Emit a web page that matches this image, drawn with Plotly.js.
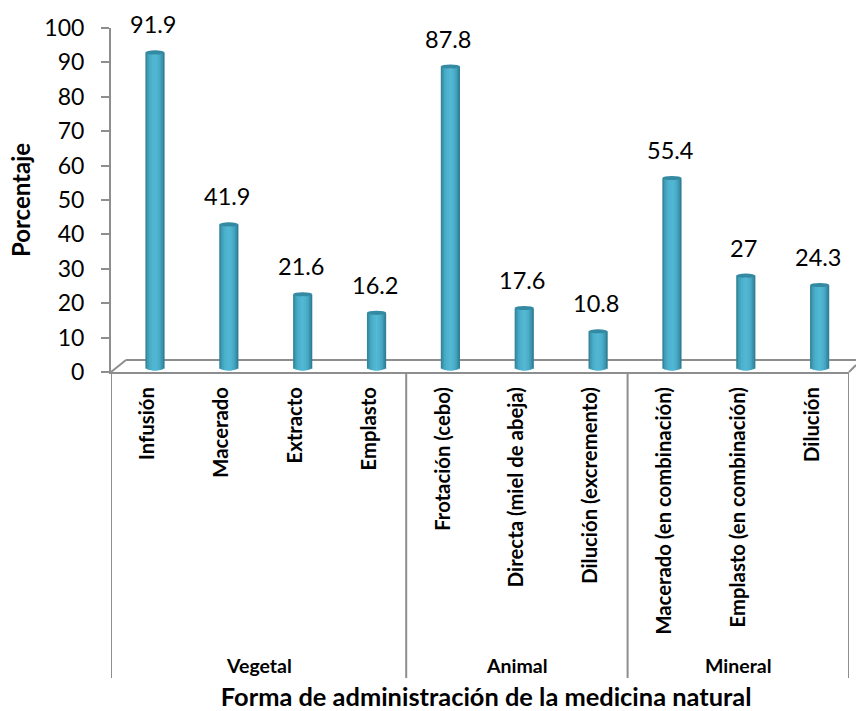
<!DOCTYPE html>
<html><head><meta charset="utf-8">
<script src="https://cdn.plot.ly/plotly-3.0.1.min.js"></script>
<style>html,body{margin:0;padding:0;background:#fff}</style></head>
<body><div id="chart" style="width:856px;height:711px"></div>
<script>
const categories = ["Infusión","Macerado","Extracto","Emplasto","Frotación (cebo)","Directa (miel de abeja)","Dilución (excremento)","Macerado (en combinación)","Emplasto (en combinación)","Dilución"];
const values = [91.9,41.9,21.6,16.2,87.8,17.6,10.8,55.4,27,24.3];
const valueLabels = ["91.9","41.9","21.6","16.2","87.8","17.6","10.8","55.4","27","24.3"];
const groups = ["Vegetal","Animal","Mineral"];
const groupSpans = [[0,3],[4,6],[7,9]];
const yTicks = [0,10,20,30,40,50,60,70,80,90,100];

// cylinder shading, left to right
const stripColors = ["#35869c","#3f9bb4","#46a8c3","#4bb0cb","#4eb4cf","#50b6d2","#50b6d2","#4eb3cf","#4aadc9","#43a3be","#3a92ab","#307f95"];
const stripDip = [0.1,0.35,0.55,0.7,0.8,0.85,0.85,0.8,0.7,0.55,0.35,0.1];
const capColor = "#338aa2";
const lineColor = "#8e8e8e";
const font = "Lato, Carlito, sans-serif";

const ids = categories.map((_, i) => i);
const barW = 0.26, n = stripColors.length, sw = barW / n;
const traces = [{
  type:"scatter", mode:"markers", x:ids, y:values, xaxis:"x", yaxis:"y",
  marker:{opacity:0}, hoverinfo:"skip", showlegend:false
}];
// drawn from the outer strips towards the centre, each one running under its inner neighbour
const order = stripColors.map((_, k) => k).sort((a, b) => Math.abs(b-(n-1)/2) - Math.abs(a-(n-1)/2));
order.forEach(k => {
  const left = k < n/2;
  const w = (k === n/2 || k === n/2-1) ? sw : 2*sw;
  traces.push({
    type:"bar", x:ids, y:values, base:ids.map(() => -stripDip[k]*0.7), xaxis:"x2", yaxis:"y2",
    width:w, offset:-barW/2 + (left ? k*sw : (k+1)*sw - w), marker:{color:stripColors[k], line:{width:0}},
    name:"Porcentaje", showlegend:false, hovertemplate:"%{y}<extra></extra>"
  });
});

const shapes = [];
const ln = {color:lineColor, width:2};
// floor outline
shapes.push({type:"line", xref:"paper", yref:"paper", x0:0, x1:15/738, y0:0, y1:12/344, line:ln, layer:"below"});
shapes.push({type:"line", xref:"paper", yref:"paper", x0:15/738, x1:745/738, y0:12/344, y1:12/344, line:ln, layer:"below"});
shapes.push({type:"line", xref:"paper", yref:"paper", x0:1, x1:745/738, y0:0, y1:7/344, line:ln, layer:"below"});
// group dividers below the axis
const divY = -306/344;
[-0.5, 3.5, 6.5, 9.5].forEach(x => shapes.push({type:"line", xref:"x", yref:"paper", x0:x, x1:x, y0:0, y1:divY, line:ln}));
// cylinder tops
values.forEach((v, i) => shapes.push({
  type:"circle", xref:"x2", yref:"y2", x0:i-barW/2, x1:i+barW/2, y0:v-0.6, y1:v+0.6,
  fillcolor:capColor, line:{width:0}
}));

const annotations = values.map((v, i) => ({
  xref:"x2", yref:"y2", x:i, y:v, yshift:28, xshift:-2, text:valueLabels[i], showarrow:false,
  font:{family:font, size:23.5, color:"#000"}, yanchor:"middle"
}));
groups.forEach((g, i) => annotations.push({
  xref:"x", yref:"paper", x:(groupSpans[i][0]+groupSpans[i][1])/2, y:-293/344, yanchor:"middle",
  text:"<b>"+g+"</b>", showarrow:false, font:{family:font, size:19.5, color:"#000"}
}));

const layout = {
  width:856, height:711, autosize:false, showlegend:false,
  paper_bgcolor:"#fff", plot_bgcolor:"#fff",
  margin:{l:111, r:7, t:28, b:339, pad:0},
  barmode:"overlay",
  xaxis:{type:"linear", range:[-0.5,9.5], tickmode:"array", tickvals:ids, ticktext:categories.map(c => "<b>"+c+"</b>"),
    tickangle:-90, ticks:"", ticklabelstandoff:5, showgrid:false, zeroline:false, showline:true, linecolor:lineColor, linewidth:2,
    tickfont:{family:font, size:20.3, color:"#000"}, automargin:false,
    title:{text:"<b>\u00a0\u00a0Forma de administración de la medicina natural</b>", standoff:58, font:{family:font, size:25.4, color:"#000"}}},
  yaxis:{range:[0,100], tickmode:"array", tickvals:yTicks, ticks:"outside", ticklen:8, tickwidth:2, tickcolor:lineColor, ticklabelstandoff:12,
    showgrid:false, zeroline:false, showline:true, linecolor:lineColor, linewidth:2,
    tickfont:{family:font, size:23, color:"#000"}, automargin:false,
    title:{text:"<b>Porcentaje</b>", standoff:7, font:{family:font, size:24, color:"#000"}}},
  xaxis2:{overlaying:"x", range:[-44/73.85, 694/73.85], visible:false, fixedrange:true},
  yaxis2:{overlaying:"y", range:[-1,99], visible:false, fixedrange:true},
  shapes, annotations
};
Plotly.newPlot("chart", traces, layout, {displayModeBar:false, staticPlot:true});
</script></body></html>
